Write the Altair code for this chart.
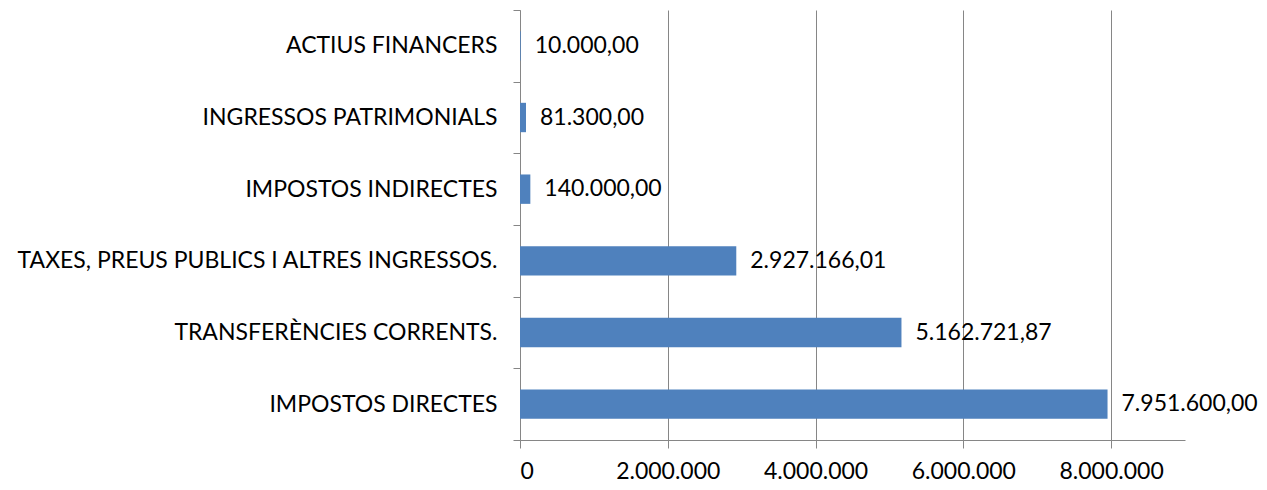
import altair as alt
import pandas as pd

categories = [
    "ACTIUS FINANCERS",
    "INGRESSOS PATRIMONIALS",
    "IMPOSTOS INDIRECTES",
    "TAXES, PREUS PUBLICS I ALTRES INGRESSOS.",
    "TRANSFERÈNCIES CORRENTS.",
    "IMPOSTOS DIRECTES",
]
values = [10000.00, 81300.00, 140000.00, 2927166.01, 5162721.87, 7951600.00]
x_ticks = [0, 2000000, 4000000, 6000000, 8000000]

df = pd.DataFrame({"cat": categories, "val": values})

FONT = "Lato"
FS = 23
GRAY = "#868686"

y_enc = alt.Y(
    "cat:N",
    sort=categories,
    scale=alt.Scale(paddingInner=0, paddingOuter=0),
    axis=alt.Axis(
        title=None,
        tickBand="extent",
        grid=False,
        domainColor=GRAY,
        tickColor=GRAY,
        tickSize=7,
        labelFont=FONT,
        labelFontSize=FS,
        labelColor="black",
        labelPadding=16,
        labelLimit=600,
    ),
)
x_enc = alt.X(
    "val:Q",
    scale=alt.Scale(domain=[0, 9000000], nice=False),
    axis=alt.Axis(
        title=None,
        values=x_ticks,
        format=",d",
        grid=True,
        gridColor=GRAY,
        gridOpacity=1,
        domainColor=GRAY,
        tickColor=GRAY,
        tickSize=8,
        labelFont=FONT,
        labelFontSize=FS,
        labelColor="black",
        labelPadding=12,
    ),
)

bars = alt.Chart(df).mark_bar(color="#4F81BD", height={"band": 0.41}).encode(x=x_enc, y=y_enc)
text = alt.Chart(df).mark_text(
    align="left", baseline="middle", dx=14, font=FONT, fontSize=FS, color="black"
).encode(
    x="val:Q",
    y=alt.Y("cat:N", sort=categories),
    text=alt.Text("val:Q", format=",.2f"),
)

chart = (
    alt.layer(bars, text)
    .properties(
        width=665,
        height=430,
        padding={"left": 512, "top": 2, "right": 74, "bottom": 47},
        autosize=alt.AutoSizeParams(type="none"),
    )
    .configure_view(stroke=None)
)

chart.save(
    "out.html",
    embed_options={
        "renderer": "svg",
        "actions": False,
        "formatLocale": {
            "decimal": ",",
            "thousands": ".",
            "grouping": [3],
            "currency": ["", " €"],
        },
    },
)
